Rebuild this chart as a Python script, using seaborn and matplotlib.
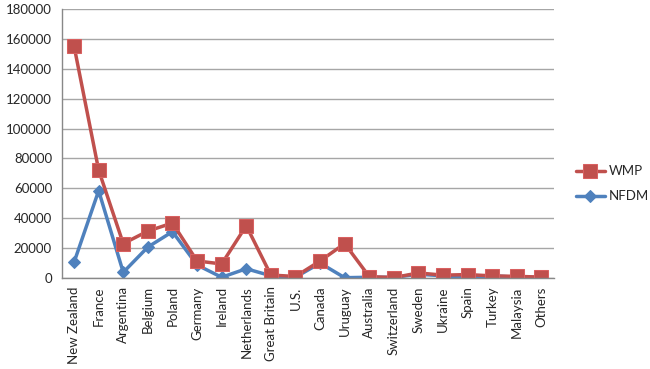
import numpy as np
import pandas as pd
import matplotlib
matplotlib.use('Agg')
import matplotlib.pyplot as plt
import seaborn as sns

# Data
countries = ['New Zealand', 'France', 'Argentina', 'Belgium', 'Poland', 'Germany',
             'Ireland', 'Netherlands', 'Great Britain', 'U.S.', 'Canada', 'Uruguay',
             'Australia', 'Switzerland', 'Sweden', 'Ukraine', 'Spain', 'Turkey',
             'Malaysia', 'Others']
wmp = [155200, 72200, 23000, 31400, 36800, 11400, 9400, 35000, 2000, 1000,
       11400, 23000, 900, 300, 3400, 1900, 2300, 1400, 1100, 600]
nfdm = [10500, 58400, 3800, 20700, 31000, 8700, 500, 6200, 1500, 500,
        10000, 200, 500, 500, 2500, 1500, 500, 1500, 500, 300]
yticks = [0, 20000, 40000, 60000, 80000, 100000, 120000, 140000, 160000, 180000]

df = pd.DataFrame({'pos': np.arange(len(countries)), 'country': countries,
                   'WMP': wmp, 'NFDM': nfdm})

sns.set_style('white')
plt.rcParams['font.family'] = ['Lato', 'DejaVu Sans']

fig = plt.figure(figsize=(6.5, 3.69), dpi=100)
ax = fig.add_axes([0.095, 0.2466, 0.757, 0.729])

red = '#C0504D'
blue = '#4F81BD'

sns.lineplot(data=df, x='pos', y='NFDM', ax=ax, color=blue, lw=2.5,
             marker='D', markersize=6.5, markeredgecolor=blue, label='NFDM')
sns.lineplot(data=df, x='pos', y='WMP', ax=ax, color=red, lw=2.5,
             marker='s', markersize=9.5, markeredgecolor='#d96060', label='WMP')

ax.set_xlim(-0.5, len(countries) - 0.5)
ax.set_ylim(0, 180000)
ax.set_yticks(yticks)
ax.set_yticklabels([str(v) for v in yticks], fontsize=9.5)
ax.set_xticks(np.arange(len(countries)))
ax.set_xticklabels(countries, rotation=90, fontsize=9.5)
ax.set_xticks(np.arange(-0.5, len(countries)), minor=True)
ax.tick_params(axis='x', which='major', length=0, pad=6)
ax.tick_params(axis='x', which='minor', length=4, color='#888888', direction='out')
ax.tick_params(axis='y', length=4, color='#888888', direction='out', pad=3)
ax.yaxis.grid(True, color='#a6a6a6', lw=1)
ax.set_axisbelow(True)
ax.set_xlabel('')
ax.set_ylabel('')
for s in ['top', 'right']:
    ax.spines[s].set_visible(False)
for s in ['left', 'bottom']:
    ax.spines[s].set_color('#888888')
    ax.spines[s].set_linewidth(1)

handles, labels = ax.get_legend_handles_labels()
ax.legend(handles[::-1], labels[::-1], loc='center left', bbox_to_anchor=(1.02, 0.35),
          frameon=False, fontsize=9.5, handlelength=2.2, handletextpad=0.3,
          labelspacing=1.0)

fig.savefig('out.png', dpi=100)
